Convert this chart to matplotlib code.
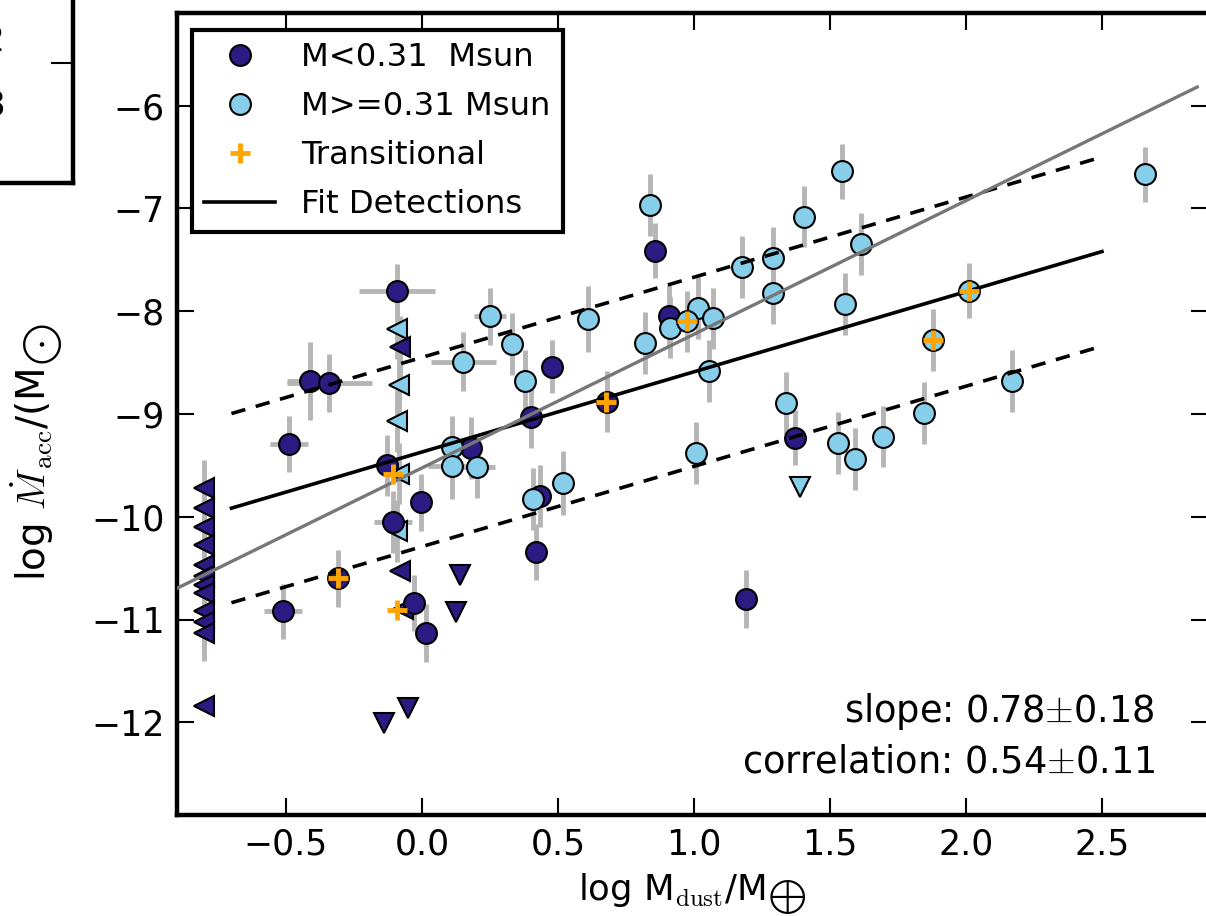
import numpy as np
import matplotlib.pyplot as plt

plt.rcParams['mathtext.fontset'] = 'cm'

# low mass stars (M<0.31 Msun), detections
lo_x = [-0.09, -0.41, -0.34, -0.49, -0.13, 0.18, -0.005, -0.105, 0.42, 0.435, 0.48,
        0.40, -0.03, 0.016, -0.51, 0.857, 0.91, 1.37, 1.19, 0.68, -0.31]
lo_y = [-7.80, -8.68, -8.70, -9.29, -9.50, -9.33, -9.86, -10.05, -10.34, -9.80, -8.54,
        -9.03, -10.84, -11.13, -10.92, -7.41, -8.05, -9.23, -10.80, -8.88, -10.60]
lo_xerr = [0.14, 0.085, 0.155, 0.07, 0, 0, 0, 0.07, 0, 0, 0,
           0, 0, 0, 0.07, 0, 0, 0, 0, 0, 0]
lo_yerr = [0.26, 0.38, 0.28, 0.27, 0.3, 0.3, 0.28, 0.3, 0.27, 0.3, 0.26,
           0.3, 0.27, 0.28, 0.27, 0.27, 0.3, 0.27, 0.28, 0.3, 0.28]

# higher mass stars (M>=0.31 Msun), detections
hi_x = [0.112, 0.112, 0.204, 0.41, 0.25, 0.33, 0.152, 0.38, 0.61, 0.52, 0.84, 0.82,
        0.913, 1.016, 1.07, 0.975, 1.056, 1.008, 1.34, 1.545, 1.405, 1.29, 1.175,
        1.614, 1.29, 1.556, 2.01, 1.88, 2.17, 1.846, 1.695, 1.53, 1.593, 2.66]
hi_y = [-9.32, -9.51, -9.52, -9.83, -8.05, -8.32, -8.49, -8.68, -8.08, -9.67, -6.97, -8.31,
        -8.16, -7.97, -8.07, -8.10, -8.58, -9.38, -8.89, -6.64, -7.08, -7.48, -7.57,
        -7.35, -7.82, -7.93, -7.80, -8.28, -8.68, -8.99, -9.22, -9.28, -9.44, -6.67]
hi_xerr = [0, 0.09, 0.066, 0, 0.06, 0, 0.12, 0, 0, 0, 0, 0,
           0, 0, 0, 0, 0, 0, 0, 0, 0, 0, 0,
           0, 0, 0, 0, 0, 0, 0, 0, 0, 0, 0]
hi_yerr = [0.3, 0.32, 0.3, 0.3, 0.28, 0.3, 0.29, 0.3, 0.32, 0.31, 0.3, 0.3,
           0.3, 0.3, 0.3, 0.3, 0.3, 0.3, 0.3, 0.27, 0.3, 0.3, 0.3,
           0.3, 0.3, 0.3, 0.27, 0.3, 0.3, 0.3, 0.3, 0.3, 0.3, 0.27]

# upper limits in dust mass (left pointing)
lo_dlim_x = [-0.8] * 12 + [-0.08, -0.08, -0.07]
lo_dlim_y = [-9.72, -9.91, -10.10, -10.27, -10.47, -10.58, -10.66, -10.74,
             -10.92, -11.02, -11.13, -11.84, -8.35, -10.53, -10.90]
lo_dlim_yerr = [0.27] * 11 + [0, 0.3, 0, 0]
hi_dlim_x = [-0.09, -0.085, -0.09, -0.085, -0.09]
hi_dlim_y = [-8.17, -8.72, -9.07, -9.58, -10.14]
hi_dlim_yerr = [0.3, 0.3, 0.3, 0.3, 0.3]

# upper limits in accretion rate (down pointing)
lo_alim_x = [0.14, 0.127, -0.14, -0.05]
lo_alim_y = [-10.57, -10.93, -12.01, -11.86]
hi_alim_x = [1.39]
hi_alim_y = [-9.71]

# transitional disks
tr_x = [-0.105, -0.307, -0.09, 0.678, 0.975, 2.01, 1.88]
tr_y = [-9.58, -10.60, -10.91, -8.88, -8.10, -7.80, -8.28]

# fits
fit_slope, fit_icpt, fit_scatter = 0.78, -9.37, 0.92
fit_x = np.array([-0.7, 2.5])
all_slope, all_icpt = 1.30, -9.525
all_x = np.array([-0.9, 2.85])

dark = '#2d1b84'
light = '#87ceeb'
ecol = '#b5b5b5'

fig = plt.figure(figsize=(12.06, 9.16), dpi=100)

# piece of the neighbouring panel
ax0 = fig.add_axes([-0.5, 0.8002, 0.5605, 0.5])
ax0.set_xlim(0, 1)
ax0.set_ylim(0, 1)
ax0.set_xticks([])
ax0.set_yticks([0.262])
ax0.yaxis.tick_right()
ax0.tick_params(axis='y', direction='in', length=16, width=1.5, labelright=False)
for s in ax0.spines.values():
    s.set_linewidth(3.2)
fig.text(0.004, 0.955, '2', fontsize=26, ha='right', va='center')
fig.text(0.004, 0.885, '3', fontsize=26, ha='right', va='center')

ax = fig.add_axes([0.1468, 0.1103, 0.8549, 0.8755])

ms = 15
ax.errorbar(lo_x, lo_y, xerr=lo_xerr, yerr=lo_yerr, fmt='none', ecolor=ecol,
            elinewidth=3.5, capsize=0, zorder=1)
ax.errorbar(hi_x, hi_y, xerr=hi_xerr, yerr=hi_yerr, fmt='none', ecolor=ecol,
            elinewidth=3.5, capsize=0, zorder=1)
ax.errorbar(lo_dlim_x, lo_dlim_y, yerr=lo_dlim_yerr, fmt='none', ecolor=ecol,
            elinewidth=3.5, capsize=0, zorder=1)
ax.errorbar(hi_dlim_x, hi_dlim_y, yerr=hi_dlim_yerr, fmt='none', ecolor=ecol,
            elinewidth=3.5, capsize=0, zorder=1)

ax.plot(lo_dlim_x, lo_dlim_y, '<', ms=ms, mfc=dark, mec='k', mew=1.5, ls='none', zorder=3)
ax.plot(hi_dlim_x, hi_dlim_y, '<', ms=ms, mfc=light, mec='k', mew=1.5, ls='none', zorder=3)
ax.plot(lo_alim_x, lo_alim_y, 'v', ms=ms, mfc=dark, mec='k', mew=1.5, ls='none', zorder=3)
ax.plot(hi_alim_x, hi_alim_y, 'v', ms=ms, mfc=light, mec='k', mew=1.5, ls='none', zorder=3)
h1, = ax.plot(lo_x, lo_y, 'o', ms=ms, mfc=dark, mec='k', mew=1.5, ls='none', zorder=3,
              label='M<0.31  Msun')
h2, = ax.plot(hi_x, hi_y, 'o', ms=ms, mfc=light, mec='k', mew=1.5, ls='none', zorder=3,
              label='M>=0.31 Msun')
h3, = ax.plot(tr_x, tr_y, '+', ms=15, mec='orange', mew=3.5, ls='none', zorder=6,
              label='Transitional')

fit_y = fit_slope * fit_x + fit_icpt
h4, = ax.plot(fit_x, fit_y, '-', color='k', lw=2.6, zorder=4, label='Fit Detections')
ax.plot(fit_x, fit_y + fit_scatter, '--', color='k', lw=2.6, dashes=(4, 3), zorder=4)
ax.plot(fit_x, fit_y - fit_scatter, '--', color='k', lw=2.6, dashes=(4, 3), zorder=4)
ax.plot(all_x, all_slope * all_x + all_icpt, '-', color='#777777', lw=2.4, zorder=4)

ax.set_xlim(-0.9, 2.89)
ax.set_ylim(-12.9, -5.1)
ax.set_xticks([-0.5, 0.0, 0.5, 1.0, 1.5, 2.0, 2.5])
ax.set_yticks([-12, -11, -10, -9, -8, -7, -6])
ax.tick_params(direction='in', length=12, width=1.5, labelsize=25, pad=9,
               top=True, right=True)
for s in ax.spines.values():
    s.set_linewidth(3.2)

ax.set_xlabel(r'log M$_{\rm dust}$/M$_{\bigoplus}$', fontsize=25.5, labelpad=7)
ax.set_ylabel(r'log $\dot M_{\rm acc}$/(M$_{\bigodot}$', fontsize=28)
ax.yaxis.set_label_coords(-0.1086, 0.452)

ax.text(0.9486, 0.116, r'slope: 0.78$\pm$0.18', transform=ax.transAxes,
        fontsize=26.5, ha='right', va='baseline')
ax.text(0.9486, 0.0524, r'correlation: 0.54$\pm$0.11', transform=ax.transAxes,
        fontsize=26.5, ha='right', va='baseline')

leg = ax.legend(handles=[h1, h2, h3, h4], loc='upper left',
                bbox_to_anchor=(0.0145, 0.979), borderaxespad=0, numpoints=1,
                fontsize=23.2, fancybox=False, framealpha=1, edgecolor='k',
                handlelength=2.2, labelspacing=0.56, handletextpad=0.8,
                borderpad=0.38)
leg.get_frame().set_linewidth(3)

fig.savefig('out.png', dpi=100)
